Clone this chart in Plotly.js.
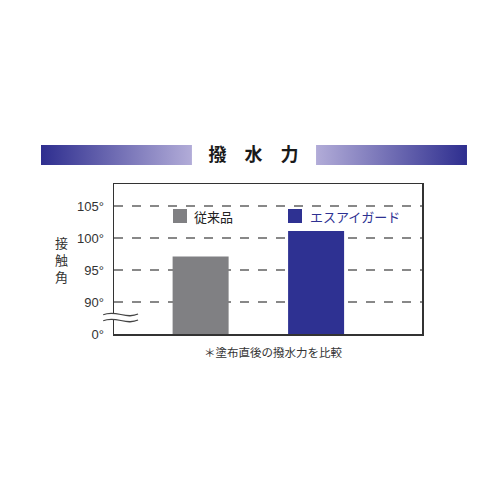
<!DOCTYPE html>
<html>
<head>
<meta charset="utf-8">
<script src="https://cdn.plot.ly/plotly-3.0.1.min.js"></script>
<style>
  html, body { margin: 0; padding: 0; background: #fff; }
  #chart { width: 500px; height: 500px; }
</style>
</head>
<body>
<div id="chart"></div>
<script>
// data (axis is broken: the bottom "0°" sits at 85)
let products = ["従来品", "エスアイガード"];
let angles = [97.1, 101.1];
let barColors = ["#808083", "#2e3192"];
let labelColors = ["#222", "#2e3192"];
let tickVals = [85, 90, 95, 100, 105];
let tickText = ["0°", "90°", "95°", "100°", "105°"];

let jp = "'Noto Sans CJK JP', 'Noto Sans', sans-serif";

// gradient strips either side of the heading
function strip(fromColor, toColor) {
    let svg = '<svg xmlns="http://www.w3.org/2000/svg" width="151" height="20">' +
        '<defs><linearGradient id="g" x1="0" x2="1" y1="0" y2="0">' +
        '<stop offset="0" stop-color="' + fromColor + '"/>' +
        '<stop offset="1" stop-color="' + toColor + '"/>' +
        '</linearGradient></defs>' +
        '<rect width="151" height="20" fill="url(#g)"/></svg>';
    return 'data:image/svg+xml;utf8,' + encodeURIComponent(svg);
}

let trace1 = {
    x: products,
    y: angles,
    type: 'bar',
    width: 0.485,
    marker: { color: barColors },
    hoverinfo: 'none'
};
let data = [trace1];

// little legend (square + label) sitting above each bar
let legendNotes = [];
products.forEach(function(p, i) {
    legendNotes.push({
        x: p, y: 103.4, xref: 'x', yref: 'y',
        xanchor: 'left', yanchor: 'middle', xshift: -28,
        showarrow: false, text: ' ',
        width: 14, height: 14, borderpad: 0, borderwidth: 0,
        bgcolor: barColors[i]
    });
    legendNotes.push({
        x: p, y: 103.4, xref: 'x', yref: 'y',
        xanchor: 'left', yanchor: 'middle', xshift: -8.5,
        showarrow: false, text: p,
        font: { family: jp, size: 13, color: labelColors[i] }
    });
});

// break mark on the y axis
let waveTop = 'M -0.035,0.128 C 0.005,0.165 0.04,0.095 0.078,0.133';
let waveBot = 'M -0.035,0.088 C 0.005,0.125 0.04,0.055 0.078,0.093';
let waveFill = 'M -0.035,0.128 C 0.005,0.165 0.04,0.095 0.078,0.133 ' +
    'L 0.078,0.093 C 0.04,0.055 0.005,0.125 -0.035,0.088 Z';

let layout = {
    width: 500,
    height: 500,
    margin: { l: 114, r: 78, t: 184, b: 166 },
    paper_bgcolor: '#fff',
    plot_bgcolor: '#fff',
    showlegend: false,
    title: {
        text: '<b>撥　水　力</b>',
        font: { family: jp, size: 18, color: '#1a1a1a' },
        x: 0.507, xref: 'container', xanchor: 'center',
        y: 0.69, yref: 'container', yanchor: 'middle'
    },
    xaxis: {
        range: [-0.75, 1.917],
        showticklabels: false,
        ticks: '',
        showgrid: false,
        showline: true, mirror: true,
        linecolor: '#333', linewidth: 1.5,
        fixedrange: true
    },
    yaxis: {
        range: [85, 108.45],
        tickvals: tickVals,
        ticktext: tickText,
        ticks: '',
        ticklabelstandoff: 6,
        tickfont: { family: 'Liberation Sans, Arial, sans-serif', size: 13, color: '#333' },
        showgrid: true,
        gridcolor: '#888', gridwidth: 1.5, griddash: 'dash',
        zeroline: false,
        showline: true, mirror: true,
        linecolor: '#333', linewidth: 1.5,
        fixedrange: true
    },
    images: [
        { source: strip('#2e2e8f', '#b2acd8'), xref: 'paper', yref: 'paper',
          x: -0.237, y: 1.26, sizex: 0.49, sizey: 0.1333,
          xanchor: 'left', yanchor: 'top', sizing: 'stretch', layer: 'above' },
        { source: strip('#b2acd8', '#2e2e8f'), xref: 'paper', yref: 'paper',
          x: 0.656, y: 1.26, sizex: 0.49, sizey: 0.1333,
          xanchor: 'left', yanchor: 'top', sizing: 'stretch', layer: 'above' }
    ],
    shapes: [
        { type: 'path', xref: 'paper', yref: 'paper', path: waveFill,
          fillcolor: '#fff', line: { width: 0 }, layer: 'above' },
        { type: 'path', xref: 'paper', yref: 'paper', path: waveTop,
          line: { color: '#444', width: 1.2 }, layer: 'above' },
        { type: 'path', xref: 'paper', yref: 'paper', path: waveBot,
          line: { color: '#444', width: 1.2 }, layer: 'above' }
    ],
    annotations: legendNotes.concat([
        {
            x: -0.172, y: 0.5, xref: 'paper', yref: 'paper',
            xanchor: 'center', yanchor: 'middle', showarrow: false,
            text: '接<br>触<br>角',
            font: { family: jp, size: 13, color: '#333' }
        },
        {
            x: 0.516, y: -0.12, xref: 'paper', yref: 'paper',
            xanchor: 'center', yanchor: 'middle', showarrow: false,
            text: '＊塗布直後の撥水力を比較',
            font: { family: jp, size: 11.5, color: '#333' }
        }
    ])
};

Plotly.newPlot('chart', data, layout, { displayModeBar: false, staticPlot: true });
</script>
</body>
</html>
